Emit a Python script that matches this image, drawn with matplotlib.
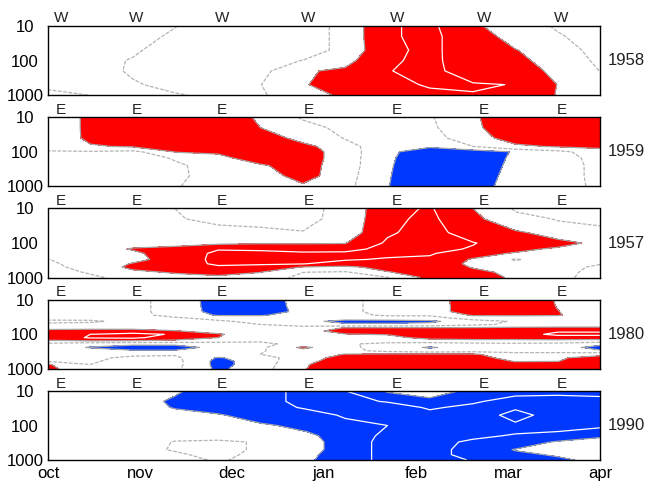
import numpy as np
import matplotlib
matplotlib.use('Agg')
import matplotlib.pyplot as plt
from matplotlib.ticker import NullLocator

plt.rcParams['font.family'] = ['Liberation Sans', 'DejaVu Sans']

# ---------------- data ----------------
months = ['oct', 'nov', 'dec', 'jan', 'feb', 'mar', 'apr']
month_pos = [0, 1, 2, 3, 4, 5, 6]
grid_month = [0.0, 0.46, 0.92, 1.38, 1.85, 2.31, 2.77, 3.23, 3.69, 4.15, 4.62, 5.08, 5.54, 6.0]
phase_pos = [0.14, 0.96, 1.89, 2.83, 3.79, 4.74, 5.58]
years = ['1958', '1959', '1957', '1980', '1990']
phases = ['W', 'E', 'E', 'E', 'E']
p_ticks = [10, 100, 1000]

p1958 = [10, 20, 50, 100, 200, 500, 1000]
u1958 = [
    [0.5, 0.5, 0.3, 0.02, -0.3, -0.4, -0.5, 0.3, 1.9, 2.2, 1.2, 0.36, -0.08, -0.3],
    [0.5, 0.5, 0.3, -0.13, -0.4, -0.4, -0.5, 0.3, 1.9, 2.2, 1.5, 0.62, 0.09, -0.4],
    [0.5, 0.4, 0.1, -0.32, -0.4, -0.4, -0.5, 0.3, 1.8, 2.2, 1.5, 1.05, 0.33, -0.25],
    [0.4, 0.3, -0.06, -0.4, -0.5, -0.3, 0.02, 0.7, 1.85, 2.25, 1.4, 1.2, 0.66, -0.2],
    [0.3, 0.3, -0.09, -0.4, -0.5, -0.3, 0.87, 1.21, 1.95, 2.35, 1.35, 1.3, 0.855, -0.02],
    [0.2, 0.2, 0.1, -0.28, -0.3, -0.02, 0.9, 1.6, 1.8, 2.07, 2.15, 1.95, 0.98, 0.5],
    [-0.3, 0.02, 0.1, 0.1, -0.26, -0.1, 0.525, 1.21, 1.6, 1.8, 1.9, 1.7, 0.95, 0.5],
]

p1959 = [10, 20, 40, 70, 100, 150, 250, 500, 1000]
u1959 = [
    [0.3, 1.22, 1.6, 1.7, 1.8, 0.8, -0.1, -0.5, -0.4, -0.1, 0.9, 1.5, 1.5, 1.4],
    [0.3, 1.22, 1.6, 1.7, 1.8, 1.0, 0.4, -0.3, -0.5, -0.2, 0.85, 1.5, 1.5, 1.4],
    [0.3, 1.2, 1.5, 1.6, 1.7, 1.5, 0.7, -0.05, -0.6, -0.4, 0.6, 1.4, 1.4, 1.3],
    [0.2, 0.9, 1.1, 1.4, 1.5, 1.7, 1.3, 0.4, -0.7, -0.9, 0.0, 0.8, 1.1, 1.2],
    [-0.05, -0.1, -0.3, 1.05, 1.1, 1.6, 1.5, 0.5, -0.8, -1.5, -1.6, -0.9, -0.3, 0.6],
    [-0.3, -0.4, -0.5, 0.1, 0.8, 1.4, 1.5, 0.5, -0.85, -1.6, -1.7, -0.8, -0.5, 0.4],
    [-0.4, -0.5, -0.5, -0.2, 0.5, 0.9, 1.4, 0.5, -0.9, -1.6, -1.7, -0.7, -0.5, 0.3],
    [-0.4, -0.5, -0.4, -0.2, 0.4, 0.5, 1.4, 0.4, -0.95, -1.5, -1.6, -0.6, -0.5, 0.3],
    [-0.3, -0.4, -0.3, -0.05, 0.3, 0.3, 0.8, 0.3, -0.98, -1.4, -1.5, -0.5, -0.4, 0.2],
]

p1957 = [10, 20, 50, 100, 150, 200, 300, 400, 500, 700, 1000]
u1957 = [
    [0.3, 0.3, 0.3, 0.0, -0.3, -0.3, -0.3, 0.3, 1.7, 2.1, 1.0, -0.1, -0.3, -0.4],
    [0.3, 0.35, 0.35, 0.05, -0.15, -0.2, -0.25, 0.3, 1.8, 2.2, 1.25, 0.3, -0.05, -0.2],
    [0.4, 0.45, 0.5, 0.3, 0.3, 0.2, 0.05, 0.4, 1.9, 2.3, 1.6, 1.2, 0.5, 0.3],
    [0.5, 0.6, 0.8, 0.7, 0.8, 0.9, 0.9, 0.95, 2.15, 2.4, 2.05, 1.5, 1.4, 0.7],
    [0.5, 0.7, 1.05, 1.3, 1.95, 1.9, 1.8, 1.7, 2.3, 2.3, 1.9, 1.3, 0.8, 0.4],
    [0.3, 0.7, 0.85, 1.4, 2.2, 2.2, 2.1, 2.2, 2.2, 2.1, 1.4, 0.9, 0.6, 0.3],
    [-0.03, 0.6, 0.8, 1.3, 2.3, 2.3, 2.3, 2.1, 1.9, 1.8, 0.9, -0.1, 0.6, 0.2],
    [-0.2, 0.5, 1.05, 1.4, 2.2, 2.1, 2.05, 1.5, 1.5, 1.6, 0.8, 0.3, 0.5, 0.05],
    [-0.3, 0.4, 1.2, 1.5, 1.8, 1.7, 0.95, 0.8, 1.3, 1.5, 0.95, 0.6, 0.4, -0.2],
    [-0.4, 0.1, 0.8, 1.1, 1.3, 1.02, 0.02, -0.1, 0.95, 1.4, 1.2, 0.8, 0.3, -0.3],
    [-0.4, -0.2, 0.4, 0.6, 0.8, 0.6, -0.3, -0.4, -0.05, 1.3, 1.3, 0.9, 0.2, -0.3],
]

p1980 = [10, 15, 22, 28, 34, 42, 52, 65, 80, 100, 125, 155, 190, 240, 300, 380, 480, 600, 750, 1000]
u1980 = [
    [0.3, 0.3, 0.3, -0.4, -1.43, -1.4, -0.71, -0.3, 0.41, 0.5, 1.6, 1.5, 0.95, 0.6],
    [0.3, 0.3, 0.3, -0.4, -1.4, -1.4, -0.75, -0.3, 0.41, 0.5, 1.55, 1.5, 0.97, 0.6],
    [0.3, 0.3, 0.3, -0.4, -1.35, -1.4, -0.8, -0.3, 0.41, 0.5, 1.55, 1.5, 1.02, 0.6],
    [0.3, 0.3, 0.2, -0.2, -1.1, -1.1, -0.5, -0.2, 0.1, 0.1, 1.1, 1.1, 1.05, 0.6],
    [0.3, 0.2, 0.15, 0.1, -0.2, -0.3, -0.4, -0.6, -0.5, -0.4, 0.4, 0.5, 0.6, 0.5],
    [-0.2, -0.1, 0.2, 0.2, 0.1, -0.2, -0.7, -1.3, -1.3, -1.2, -0.4, 0.1, 0.3, 0.3],
    [0.2, 0.2, 0.3, 0.3, 0.2, 0.0, -0.4, -0.8, -0.8, -0.7, -0.2, 0.2, 0.4, 0.4],
    [0.7, 0.7, 0.7, 0.6, 0.3, 0.1, 0.4, 1.05, 1.1, 1.1, 1.1, 1.2, 1.2, 1.2],
    [1.3, 1.4, 1.4, 1.05, 0.6, 0.3, 0.6, 1.4, 1.4, 1.4, 1.5, 1.6, 1.9, 1.9],
    [1.5, 2.0, 2.3, 1.9, 1.1, 0.4, 0.3, 0.95, 1.05, 1.5, 1.5, 1.6, 2.2, 2.2],
    [1.4, 2.1, 2.2, 1.5, 1.0, 0.3, 0.2, 0.5, 0.7, 1.3, 1.4, 1.4, 1.5, 1.5],
    [0.9, 1.0, 0.95, 0.8, 0.4, 0.1, 0.0, 0.2, 0.3, 0.6, 0.7, 0.7, 0.7, 0.6],
    [-0.3, -0.7, -0.8, -0.8, -0.5, -0.2, 0.3, 0.1, -0.2, -0.5, -0.3, -0.2, -0.3, -0.8],
    [-0.6, -1.05, -1.4, -1.4, -0.7, -0.2, 1.2, 0.3, -0.5, -1.1, -0.5, -0.3, -0.6, -1.3],
    [-0.5, -0.7, -0.9, -0.9, -0.5, -0.1, 0.7, 0.3, -0.3, -0.6, -0.4, -0.3, -0.5, -0.9],
    [-0.2, -0.3, -0.2, -0.1, -0.3, 0.0, 0.4, 1.05, 1.2, 1.2, 1.15, 0.3, 0.5, 0.8],
    [-0.2, -0.2, 0.2, 0.2, -1.1, -0.4, 0.5, 1.4, 1.5, 1.5, 1.4, 0.6, 0.9, 1.3],
    [-0.1, -0.1, 0.3, 0.3, -1.3, -0.5, 0.7, 1.5, 1.6, 1.6, 1.5, 0.95, 0.98, 1.4],
    [1.1, 0.0, 0.3, 0.3, -1.3, -0.5, 0.9, 1.5, 1.6, 1.6, 1.5, 1.3, 1.3, 1.4],
    [1.3, 0.1, 0.2, 0.2, -1.2, -0.4, 0.95, 1.5, 1.6, 1.6, 1.5, 1.4, 1.4, 1.5],
]

p1990 = [10, 20, 30, 50, 100, 150, 200, 300, 500, 700, 1000]
u1990 = [
    [-0.5, -0.5, -0.6, -0.9, -1.4, -1.7, -2.2, -2.02, -0.9, -0.6, -1.2, -1.8, -1.9, -1.92],
    [-0.5, -0.6, -0.6, -1.15, -1.5, -1.7, -2.2, -2.2, -1.95, -1.3, -1.9, -2.3, -2.2, -2.1],
    [-0.5, -0.6, -0.6, -1.05, -1.4, -1.7, -2.05, -2.2, -2.4, -1.9, -2.2, -2.9, -2.4, -2.3],
    [-0.5, -0.5, -0.5, -0.7, -0.9, -1.5, -1.6, -2.1, -2.5, -2.3, -2.5, -3.3, -2.6, -2.4],
    [-0.4, -0.4, -0.4, -0.5, -0.6, -0.8, -1.3, -1.7, -2.0, -2.5, -2.6, -2.8, -2.5, -2.1],
    [-0.4, -0.4, -0.3, -0.3, -0.4, -0.6, -0.95, -1.5, -2.1, -2.5, -2.4, -2.1, -2.0, -1.8],
    [-0.4, -0.3, -0.2, -0.1, -0.2, -0.4, -0.7, -1.5, -2.2, -2.5, -2.2, -1.9, -1.6, -1.1],
    [-0.3, -0.3, -0.2, 0.02, 0.1, -0.05, -0.5, -1.5, -2.3, -2.4, -1.8, -1.5, -0.9, -0.7],
    [-0.3, -0.2, -0.2, 0.05, 0.2, -0.1, -0.5, -1.5, -2.3, -2.4, -1.6, -0.95, -0.6, -0.5],
    [-0.3, -0.2, -0.2, -0.1, 0.2, -0.2, -0.7, -1.5, -2.3, -2.3, -1.7, -1.2, -0.9, -0.5],
    [-0.3, -0.3, -0.3, -0.3, 0.1, -0.3, -0.8, -1.5, -2.3, -2.3, -1.95, -1.4, -1.2, -0.7],
]

panels = [(p1958, u1958), (p1959, u1959), (p1957, u1957), (p1980, u1980), (p1990, u1990)]

# ---------------- style ----------------
RED = '#ff0000'
BLUE = '#0038ff'
EDGE = '#a6a6a6'
ZERO = '#b4b4b4'

W, H = 646, 487
fig = plt.figure(figsize=(W / 100, H / 100), dpi=100)
tops = [26, 117.3, 208.5, 299.8, 391]
ph = 69
left, right = 48, 600

for i, ((plev, u), top) in enumerate(zip(panels, tops)):
    ax = fig.add_axes([left / W, 1 - (top + ph) / H, (right - left) / W, ph / H])
    X, P = np.meshgrid(grid_month, plev)
    Z = np.array(u)
    ax.contourf(X, P, Z, levels=[1, 99], colors=[RED])
    if Z.min() < -1:
        ax.contourf(X, P, Z, levels=[-99, -1], colors=[BLUE])
    ax.contour(X, P, Z, levels=[0], colors=[ZERO], linewidths=0.9,
               linestyles=[(0, (3, 1.2))])
    lv = [l for l in (-1, 1) if Z.min() < l < Z.max()]
    if lv:
        ax.contour(X, P, Z, levels=lv, colors=[EDGE], linewidths=0.9,
                   linestyles='solid')
    wl = [l for l in (-3, -2, 2, 3) if Z.min() < l < Z.max()]
    if wl:
        ax.contour(X, P, Z, levels=wl, colors=['white'], linewidths=0.9,
                   linestyles='solid')

    ax.set_yscale('log')
    ax.set_ylim(1000, 10)
    ax.set_xlim(0, 6)
    ax.set_yticks(p_ticks)
    ax.set_yticklabels([str(p) for p in p_ticks])
    ax.yaxis.set_minor_locator(NullLocator())
    ax.tick_params(axis='y', length=0, pad=16.5, labelsize=12)
    for lab in ax.get_yticklabels():
        lab.set_horizontalalignment('center')
    ax.set_xticks(month_pos)
    if i == len(panels) - 1:
        ax.set_xticklabels(months)
        ax.tick_params(axis='x', length=0, pad=4.5, labelsize=12)
    else:
        ax.set_xticklabels([])
        ax.tick_params(axis='x', length=0)
    for s in ax.spines.values():
        s.set_linewidth(1.0)
        s.set_color('black')

    for xp in phase_pos:
        ax.text(xp, 1 + 3.5 / ph, phases[i], transform=ax.get_xaxis_transform(),
                ha='center', va='baseline', fontsize=11, color='#222222')
    ax.text(1 + 8 / (right - left), 0.5, years[i], transform=ax.transAxes,
            ha='left', va='center', fontsize=12, color='#222222')

fig.savefig('out.png', dpi=100)
